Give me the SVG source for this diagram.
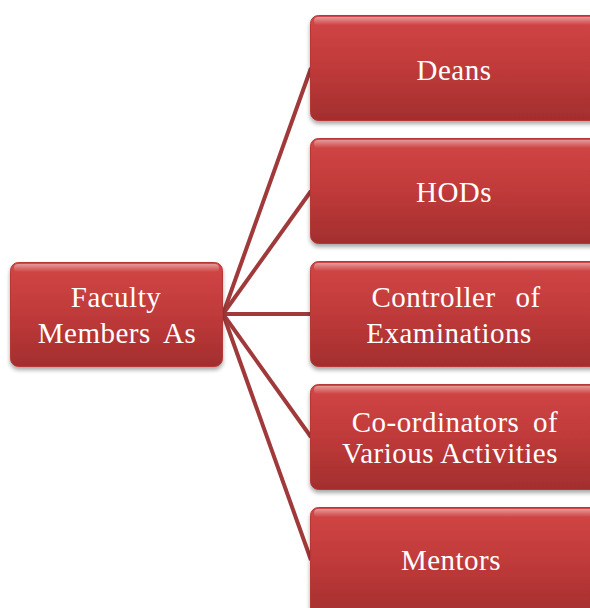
<svg xmlns="http://www.w3.org/2000/svg" width="590" height="608" viewBox="0 0 590 608">
<defs>
<linearGradient id="fill" x1="0" y1="0" x2="0" y2="1">
<stop offset="0" stop-color="#d24646"/>
<stop offset="0.5" stop-color="#c03a3a"/>
<stop offset="1" stop-color="#a32e2e"/>
</linearGradient>
<linearGradient id="gloss" x1="0" y1="0" x2="0" y2="1">
<stop offset="0" stop-color="#ffffff" stop-opacity="0.45"/>
<stop offset="1" stop-color="#ffffff" stop-opacity="0"/>
</linearGradient>
<filter id="shadow" x="-10%" y="-10%" width="120%" height="130%">
<feGaussianBlur in="SourceAlpha" stdDeviation="2"/>
<feOffset dx="0" dy="3" result="b"/>
<feComponentTransfer><feFuncA type="linear" slope="0.35"/></feComponentTransfer>
<feMerge><feMergeNode/><feMergeNode in="SourceGraphic"/></feMerge>
</filter>
</defs>
<style>
.box{fill:url(#fill);stroke:#b53838;stroke-width:1;filter:url(#shadow)}
.gl{fill:url(#gloss)}
.edge{fill:none;stroke:#a03a3a;stroke-width:4}
text{font-family:"Liberation Serif","Times New Roman",serif;fill:#ffffff;font-size:29px;text-anchor:middle;letter-spacing:0.5px}
</style>
<g id="connectors">
<line class="edge" x1="223" y1="314" x2="311" y2="68"/>
<line class="edge" x1="223" y1="314" x2="311" y2="191"/>
<line class="edge" x1="223" y1="314" x2="311" y2="314"/>
<line class="edge" x1="223" y1="314" x2="311" y2="437"/>
<line class="edge" x1="223" y1="314" x2="311" y2="560"/>
</g>
<g id="faculty">
<rect class="box" x="10.5" y="262.5" width="212" height="104" rx="8"/>
<rect class="gl" x="14" y="264" width="205" height="8" rx="4"/>
<text x="116" y="307">Faculty</text>
<text x="117" y="343" word-spacing="6">Members As</text>
</g>
<g id="deans">
<rect class="box" x="310.5" y="15.5" width="300" height="105" rx="8"/>
<rect class="gl" x="314" y="17" width="290" height="8" rx="4"/>
<text x="454" y="80">Deans</text>
</g>
<g id="hods">
<rect class="box" x="310.5" y="138.5" width="300" height="105" rx="8"/>
<rect class="gl" x="314" y="140" width="290" height="8" rx="4"/>
<text x="454" y="202">HODs</text>
</g>
<g id="controller">
<rect class="box" x="310.5" y="261.5" width="300" height="105" rx="8"/>
<rect class="gl" x="314" y="263" width="290" height="8" rx="4"/>
<text x="456" y="307" word-spacing="12">Controller of</text>
<text x="449" y="343">Examinations</text>
</g>
<g id="coordinators">
<rect class="box" x="310.5" y="384.5" width="300" height="105" rx="8"/>
<rect class="gl" x="314" y="386" width="290" height="8" rx="4"/>
<text x="455" y="432" letter-spacing="1" word-spacing="6">Co-ordinators of</text>
<text x="450" y="463">Various Activities</text>
</g>
<g id="mentors">
<rect class="box" x="310.5" y="507.5" width="300" height="110" rx="8"/>
<rect class="gl" x="314" y="509" width="290" height="8" rx="4"/>
<text x="451" y="570">Mentors</text>
</g>
</svg>
